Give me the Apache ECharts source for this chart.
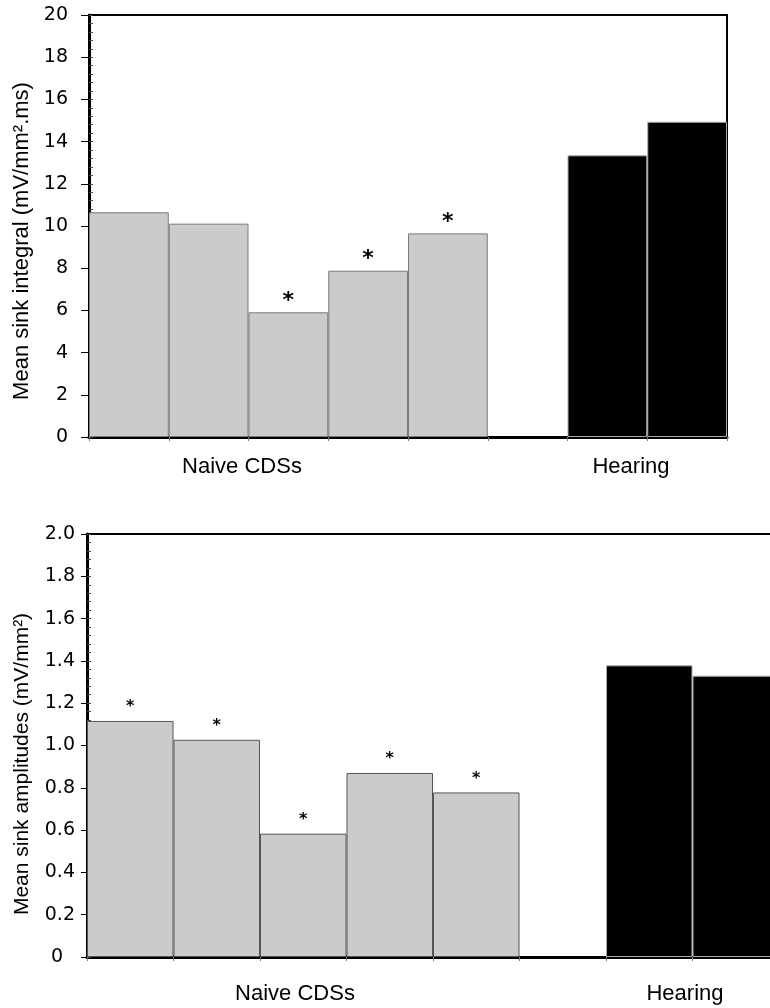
<!DOCTYPE html>
<html>
<head>
<meta charset="utf-8">
<script src="https://cdn.jsdelivr.net/npm/echarts@6/dist/echarts.min.js"></script>
<style>
html,body{margin:0;padding:0;background:#fff;}
#chart{width:770px;height:1008px;}
</style>
</head>
<body>
<div id="chart"></div>
<script>
// ---- data ----
const categories = ['Naive 1', 'Naive 2', 'Naive 3', 'Naive 4', 'Naive 5', 'gap', 'Hearing 1', 'Hearing 2'];
const groupLabels = ['Naive CDSs', 'Hearing'];

const integralNaive = [10.65, 10.11, 5.91, 7.88, 9.65];
const integralHearing = [13.35, 14.94];
const integralSig = [false, false, true, true, true];

const amplitudeNaive = [1.116, 1.027, 0.583, 0.870, 0.778];
const amplitudeHearing = [1.379, 1.330];
const amplitudeSig = [true, true, true, true, true];

const integralTicks = ['0', '2', '4', '6', '8', '10', '12', '14', '16', '18', '20'];
const amplitudeTicks = ['0', '0.2', '0.4', '0.6', '0.8', '1.0', '1.2', '1.4', '1.6', '1.8', '2.0'];

const integralTitle = 'Mean sink integral (mV/mm\u00B2.ms)';
const amplitudeTitle = 'Mean sink amplitudes (mV/mm\u00B2)';

// ---- helpers ----
function padNaive(vals) { return vals.concat(['-', '-', '-']); }
function padHearing(vals) { return ['-', '-', '-', '-', '-', '-'].concat(vals); }

const chart = echarts.init(document.getElementById('chart'), null, { renderer: 'canvas' });

const tickFont = 'DejaVu Sans';

function xAxisDef(gridIndex) {
  return {
    type: 'category', gridIndex: gridIndex, data: categories,
    axisLine: { show: true, lineStyle: { color: '#000', width: 3 } },
    axisTick: { show: true, length: 4, lineStyle: { color: '#777', width: 1 } },
    axisLabel: { show: false },
    splitLine: { show: false }
  };
}

function yMain(gridIndex, max, interval, ticks, margin, tickLen, zeroPad) {
  return {
    type: 'value', gridIndex: gridIndex, min: 0, max: max, interval: interval,
    axisLine: { show: true, lineStyle: { color: '#000', width: 3 } },
    axisTick: { show: true, length: tickLen, lineStyle: { color: '#000', width: 1 } },
    axisLabel: {
      margin: margin, color: '#000', fontFamily: tickFont, fontSize: 19,
      formatter: function (v) {
        const i = Math.round(v / interval);
        const t = ticks[i];
        return (i === 0 && zeroPad) ? '{z|' + t + '}' : t;
      },
      rich: { z: { fontFamily: tickFont, fontSize: 19, color: '#000', padding: [0, zeroPad || 0, 0, 0] } }
    },
    splitLine: { show: false }
  };
}

function yMinor(gridIndex, max, interval) {
  return {
    type: 'value', gridIndex: gridIndex, min: 0, max: max, interval: interval, position: 'left',
    axisLine: { show: false },
    axisTick: { show: true, inside: true, length: 4, lineStyle: { color: '#444', width: 1 } },
    axisLabel: { show: false },
    minorTick: { show: true, splitNumber: 5, length: 4, lineStyle: { color: '#444', width: 1 } },
    splitLine: { show: false }
  };
}

function barSeries(xi, yi, data, color, border, sig, fontSize, dist) {
  return {
    type: 'bar', xAxisIndex: xi, yAxisIndex: yi, data: data,
    barCategoryGap: '0%', barGap: '-100%',
    itemStyle: { color: color, borderColor: border, borderWidth: 1 },
    label: {
      show: !!sig, position: 'top', distance: dist, color: '#000',
      fontFamily: tickFont, fontSize: fontSize, fontWeight: 'bold',
      formatter: function (p) { return (sig && sig[p.dataIndex]) ? '*' : ''; }
    },
    silent: true, animation: false
  };
}

const option = {
  animation: false,
  backgroundColor: '#fff',
  grid: [
    { left: 89, top: 15, width: 638, height: 422, outerBoundsMode: 'none', containLabel: false,
      show: true, borderColor: '#000', borderWidth: 2, backgroundColor: 'transparent' },
    { left: 87, top: 534, width: 692, height: 423, outerBoundsMode: 'none', containLabel: false,
      show: true, borderColor: '#000', borderWidth: 2, backgroundColor: 'transparent' }
  ],
  xAxis: [xAxisDef(0), xAxisDef(1)],
  yAxis: [
    yMain(0, 20, 2, integralTicks, 21, 8, 0),
    yMinor(0, 20, 2),
    yMain(1, 2.0, 0.2, amplitudeTicks, 12, 6, 12),
    yMinor(1, 2.0, 0.2)
  ],
  series: [
    barSeries(0, 0, padNaive(integralNaive), '#cbcbcb', '#7a7a7a', integralSig, 22, 0),
    barSeries(0, 0, padHearing(integralHearing), '#000', '#aaa', null, 22, 0),
    barSeries(1, 2, padNaive(amplitudeNaive), '#cbcbcb', '#555', amplitudeSig, 16, 6),
    barSeries(1, 2, padHearing(amplitudeHearing), '#000', '#aaa', null, 16, 6)
  ],
  graphic: [
    { type: 'text', x: 22, y: 241, rotation: Math.PI / 2,
      style: { text: integralTitle, font: '22px "Liberation Sans"', fill: '#000', align: 'center', verticalAlign: 'middle' } },
    { type: 'text', x: 22, y: 764, rotation: Math.PI / 2,
      style: { text: amplitudeTitle, font: '21px "Liberation Sans"', fill: '#000', align: 'center', verticalAlign: 'middle' } },
    { type: 'text', x: 242, y: 467,
      style: { text: groupLabels[0], font: '22px "Liberation Sans"', fill: '#000', align: 'center', verticalAlign: 'middle' } },
    { type: 'text', x: 631, y: 467,
      style: { text: groupLabels[1], font: '22px "Liberation Sans"', fill: '#000', align: 'center', verticalAlign: 'middle' } },
    { type: 'text', x: 295, y: 994,
      style: { text: groupLabels[0], font: '22px "Liberation Sans"', fill: '#000', align: 'center', verticalAlign: 'middle' } },
    { type: 'text', x: 685, y: 994,
      style: { text: groupLabels[1], font: '22px "Liberation Sans"', fill: '#000', align: 'center', verticalAlign: 'middle' } }
  ]
};

chart.setOption(option);
</script>
</body>
</html>
